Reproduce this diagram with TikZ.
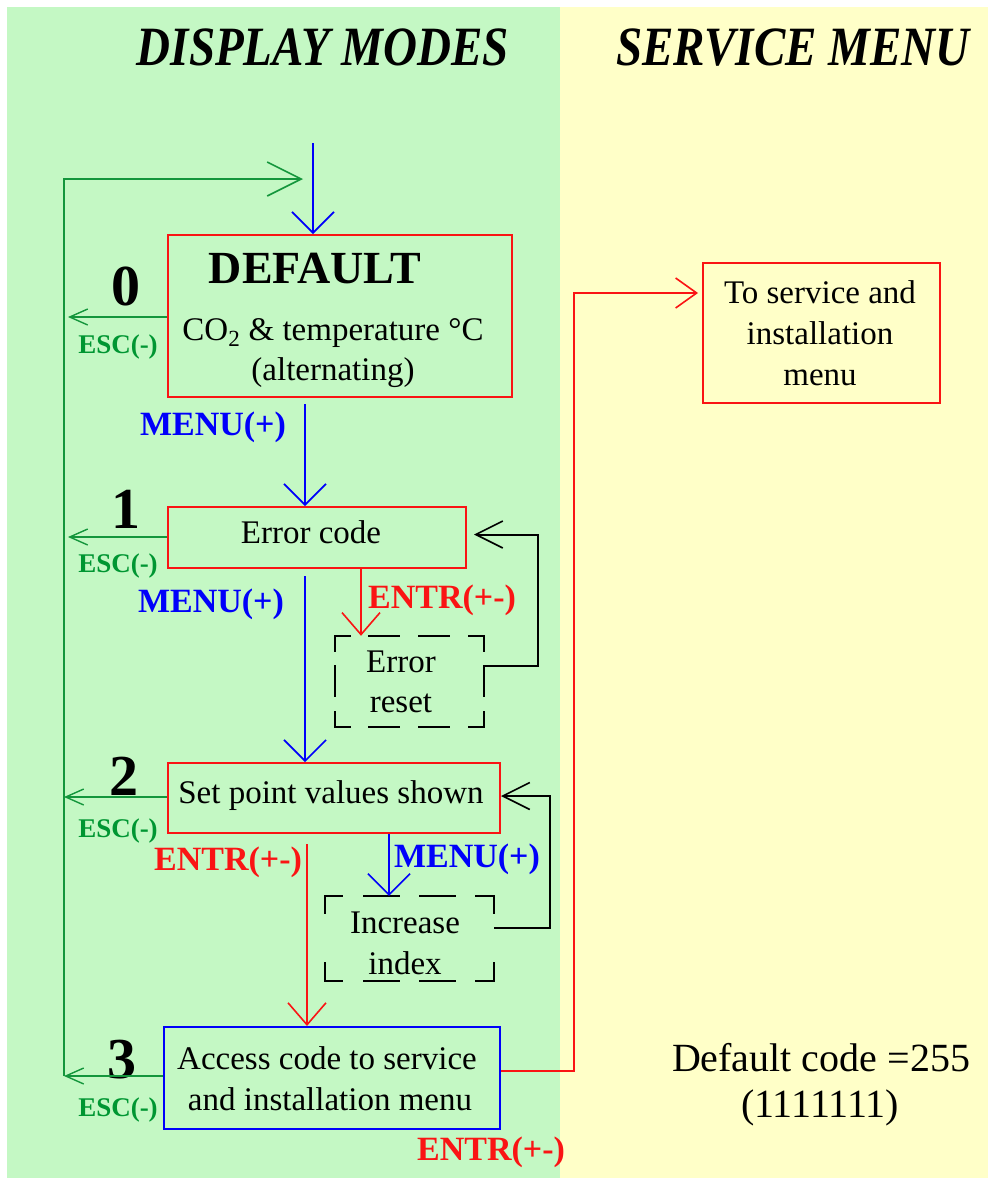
\documentclass[tikz,border=0pt]{standalone}
\usepackage{fontspec}
\setmainfont{Liberation Serif}
\usetikzlibrary{arrows.meta}
\definecolor{bggreen}{RGB}{196,248,196}
\definecolor{bgyellow}{RGB}{255,255,200}
\definecolor{lgreen}{RGB}{20,150,60}
\definecolor{tgreen}{RGB}{0,150,50}
\definecolor{lred}{RGB}{250,20,20}
\definecolor{lblue}{RGB}{0,0,250}
\newcommand{\fsz}[1]{\fontsize{#1}{#1}\selectfont}
\begin{document}
\begin{tikzpicture}[x=1pt,y=-1pt,
  box/.style={draw=#1, line width=2pt, inner sep=0pt},
  ubox/.style={inner sep=0pt},
  dside/.style={draw=black, line width=2pt, line cap=rect, dash pattern=#1},
  txt/.style={anchor=base, inner sep=0pt, font=\fsz{33}},
  ttl/.style={anchor=base, inner sep=0pt, font=\fsz{47}\bfseries\itshape},
  num/.style={anchor=base, inner sep=0pt, font=\fsz{58}\bfseries},
  esc/.style={anchor=base, inner sep=0pt, font=\fsz{27}\bfseries, text=tgreen},
  menu/.style={anchor=base, inner sep=0pt, font=\fsz{34}\bfseries, text=lblue},
  entr/.style={anchor=base, inner sep=0pt, font=\fsz{34}\bfseries, text=lred},
  gl/.style={draw=lgreen, line width=2pt},
  bl/.style={draw=lblue, line width=2pt},
  rl/.style={draw=lred, line width=2pt},
  kl/.style={draw=black, line width=2pt},
  arrG/.style={-{Straight Barb[length=34pt,width=34pt,line width=1.6pt]}},
  arrB/.style={-{Straight Barb[length=21pt,width=42pt,line width=1.6pt]}},
  arrR/.style={-{Straight Barb[length=22pt,width=38pt,line width=1.6pt]}},
  arrS/.style={-{Straight Barb[length=21pt,width=30pt,line width=1.6pt]}},
  arrK/.style={-{Straight Barb[length=27pt,width=27pt,line width=1.6pt]}},
  arrE/.style={-{Straight Barb[length=18pt,width=16pt,line width=1.4pt]}}
]
% background
\fill[white] (0,0) rectangle (988,1178);
\fill[bggreen] (7,7) rectangle (560,1178);
\fill[bgyellow] (560,7) rectangle (988,1178);
\useasboundingbox (0,0) rectangle (988,1178);

% titles
\node[ttl] (t1) at (323,65) {\scalebox{1}[1.18]{DISPLAY MODES}};
\node[ttl] (t2) at (793,65) {\scalebox{1}[1.18]{SERVICE MENU}};

% boxes
\node[box=lred, minimum width=344pt, minimum height=162pt] (def) at (340,316) {};
\node[box=lred, minimum width=298pt, minimum height=61pt] (err) at (317,537.5) {};
\node[ubox, minimum width=149pt, minimum height=91pt] (rst) at (409.5,681.5) {};
\node[box=lred, minimum width=332pt, minimum height=70pt] (sp) at (334,798) {};
\node[ubox, minimum width=169pt, minimum height=85pt] (inc) at (409.5,938.5) {};
\node[box=lblue, minimum width=336pt, minimum height=102pt] (acc) at (332,1078) {};
\node[box=lred, minimum width=237pt, minimum height=140pt] (svc) at (821.5,333) {};

% dashed borders (corners drawn)
\draw[dside={on 30pt off 19.67pt}, dash phase=15pt] (rst.north west) -- (rst.north east);
\draw[dside={on 30pt off 19.67pt}, dash phase=15pt] (rst.south west) -- (rst.south east);
\draw[dside={on 30pt off 15.5pt}, dash phase=15pt] (rst.north west) -- (rst.south west);
\draw[dside={on 30pt off 15.5pt}, dash phase=15pt] (rst.north east) -- (rst.south east);
\draw[dside={on 35pt off 21.33pt}, dash phase=17.5pt] (inc.north west) -- (inc.north east);
\draw[dside={on 35pt off 21.33pt}, dash phase=17.5pt] (inc.south west) -- (inc.south east);
\draw[dside={on 35pt off 50pt}, dash phase=17.5pt] (inc.north west) -- (inc.south west);
\draw[dside={on 35pt off 50pt}, dash phase=17.5pt] (inc.north east) -- (inc.south east);

% box texts
\node[txt, font=\fsz{46}\bfseries] (deft) at (315,283) {DEFAULT};
\node[txt] (cot) at (333,340) {CO\textsubscript{2} \& temperature °C};
\node[txt] (altt) at (333,380) {(alternating)};
\node[txt] (errt) at (311,543) {Error code};
\node[txt] (rst1) at (401,672) {Error};
\node[txt] (rst2) at (401,712) {reset};
\node[txt] (spt) at (331,803) {Set point values shown};
\node[txt] (inc1) at (405,933) {Increase};
\node[txt] (inc2) at (405,974) {index};
\node[txt] (acc1) at (327,1069) {Access code to service};
\node[txt] (acc2) at (330,1110) {and installation menu};
\node[txt] (svc1) at (820,303) {To service and};
\node[txt] (svc2) at (820,344) {installation};
\node[txt] (svc3) at (820,385) {menu};
\node[txt, font=\fsz{40}] (dc1) at (821,1071) {Default code =255};
\node[txt, font=\fsz{40}] (dc2) at (820,1117) {(1111111)};

% mode numbers
\node[num] (n0) at (126,305) {0};
\node[num] (n1) at (126,528) {1};
\node[num] (n2) at (124,795) {2};
\node[num] (n3) at (122,1078) {3};

% key labels
\node[esc] (esc0) at (118,353) {ESC(-)};
\node[esc] (esc1) at (118,572) {ESC(-)};
\node[esc] (esc2) at (118,837) {ESC(-)};
\node[esc] (esc3) at (118,1116) {ESC(-)};
\node[menu] (m1) at (213,435) {MENU(+)};
\node[menu] (m2) at (211,612) {MENU(+)};
\node[menu] (m3) at (467,867) {MENU(+)};
\node[entr] (en1) at (442,608) {ENTR(+-)};
\node[entr] (en2) at (228,870) {ENTR(+-)};
\node[entr] (en3) at (491,1160) {ENTR(+-)};

% coordinates
\coordinate (topin) at (313,143);
\coordinate (gtop) at (64,179);
\coordinate (gtip) at (303,179);
\coordinate (gbot) at (64,1076);
\coordinate (e0) at (68,317);
\coordinate (e1) at (68,537);
\coordinate (e2) at (64,797);
\coordinate (e3) at (64,1076);
\coordinate (b1) at (305,0);
\coordinate (b3) at (389,0);
\coordinate (r1) at (361,0);
\coordinate (r2) at (307,0);

% green return loop
\draw[gl, arrG] (gbot) -- (gtop) -- (gtip);
% ESC arrows
\draw[gl, arrE] (def.west |- e0) -- (e0);
\draw[gl, arrE] (err.west |- e1) -- (e1);
\draw[gl, arrE] (sp.west |- e2) -- (e2);
\draw[gl, arrE] (acc.west |- e3) -- (e3);

% blue MENU arrows
\draw[bl, arrB] (topin) -- (topin |- def.north);
\draw[bl, arrB, shorten <=6pt] (def.south -| b1) -- (err.north -| b1);
\draw[bl, arrB, shorten <=7pt] (err.south -| b1) -- (sp.north -| b1);
\draw[bl, arrB] (sp.south -| b3) -- (inc.north -| b3);

% red ENTR arrows
\draw[rl, arrR] (err.south -| r1) -- (rst.north -| r1);
\draw[rl, arrR, shorten <=10pt] (sp.south -| r2) -- (acc.north -| r2);
\draw[rl, arrS, shorten >=4pt] ([yshift=7pt]acc.east) -- ++(73,0) |- ([yshift=40pt]svc.west);

% black feedback arrows
\draw[kl, arrK, shorten >=7pt] ([yshift=16pt]rst.east) -- ++(54,0) |- ([yshift=3pt]err.east);
\draw[kl, arrK] ([yshift=11pt]inc.east) -- ++(56,0) |- ([yshift=2pt]sp.east);
\end{tikzpicture}
\end{document}
